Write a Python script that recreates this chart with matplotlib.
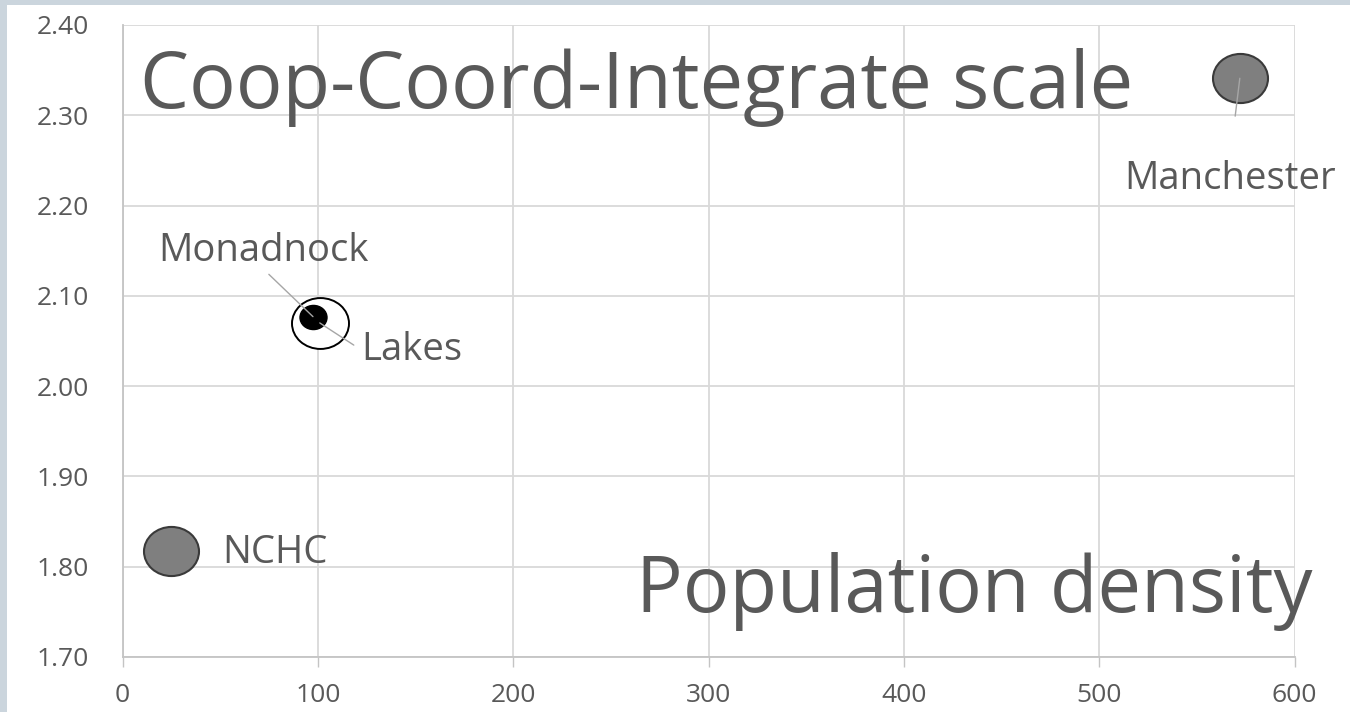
import matplotlib
matplotlib.use('Agg')
import matplotlib.pyplot as plt
from matplotlib.patches import Rectangle
from matplotlib.path import Path
from matplotlib.transforms import Affine2D

# ---- data ----
regions = ['Lakes', 'Monadnock', 'NCHC', 'Manchester']
population_density = [101, 97.5, 25, 572]
coop_scale = [2.070, 2.077, 1.817, 2.341]
x_ticks = [0, 100, 200, 300, 400, 500, 600]
y_ticks = [1.70, 1.80, 1.90, 2.00, 2.10, 2.20, 2.30, 2.40]
y_title = 'Coop-Coord-Integrate scale'
x_title = 'Population density'

# ---- style ----
FONT = 'Open Sans'
TXT = '#595959'
GRID = '#d9d9d9'
style = {
    'Lakes':      dict(size=57, face='white', edge='black', lw=1.4),
    'Monadnock':  dict(size=27, face='black', edge='black', lw=1.0),
    'NCHC':       dict(size=55, face='#7f7f7f', edge='#3a3a3a', lw=1.5),
    'Manchester': dict(size=55, face='#7f7f7f', edge='#3a3a3a', lw=1.5),
}
# label offsets in pixels (dx, dy) and leader-line settings
labels = {
    'Monadnock':  dict(off=(-49, 66), leader=True, relpos=(0.5, 0.0), shrinkA=2),
    'Lakes':      dict(off=(92, -27), leader=True, relpos=(0.0, 0.5), shrinkA=4),
    'Manchester': dict(off=(-10, -101), leader=True, relpos=(0.5, 1.0), shrinkA=30),
    'NCHC':       dict(off=(104, -2), leader=False),
}

plt.rcParams['font.family'] = [FONT, 'DejaVu Sans']

W, H, DPI = 1350, 712, 100
fig = plt.figure(figsize=(W / DPI, H / DPI), dpi=DPI, facecolor='#cbd5dd')
fig.patches.append(Rectangle((7 / W, 0), 1 - 7 / W, 1 - 5 / H,
                             transform=fig.transFigure, facecolor='white',
                             edgecolor='none', zorder=-10))

left, right, bottom, top = 122.5, 1294.5, 657, 25
ax = fig.add_axes([left / W, 1 - bottom / H, (right - left) / W, (bottom - top) / H])
ax.set_zorder(1)
ax.set_facecolor('white')
ax.set_xlim(0, 600)
ax.set_ylim(1.70, 2.40)
ax.set_xticks(x_ticks)
ax.set_yticks(y_ticks)
ax.set_xticklabels([str(v) for v in x_ticks])
ax.set_yticklabels([f'{v:.2f}' for v in y_ticks])
ax.grid(True, color=GRID, lw=1.3, zorder=0)
ax.set_axisbelow(True)
for s in ['top', 'right']:
    ax.spines[s].set_visible(False)
for s in ['left', 'bottom']:
    ax.spines[s].set_color('#c4c4c4')
    ax.spines[s].set_linewidth(1.3)
ax.tick_params(axis='x', direction='out', length=7.5, width=1.0, color='#c4c4c4',
               labelsize=19, labelcolor=TXT, pad=11)
ax.tick_params(axis='y', length=0, labelsize=19, labelcolor=TXT, pad=24)

# elliptical marker (the reference image is slightly stretched horizontally)
circle = Path.unit_circle()
ell = Affine2D().scale(1.12, 1.0).transform_path(circle)

for name, x, y in zip(regions, population_density, coop_scale):
    st = style[name]
    ax.scatter([x], [y], marker=ell, s=(st['size'] * 0.72) ** 2,
               facecolor=st['face'], edgecolor=st['edge'], linewidths=st['lw'],
               zorder=3)

for name, x, y in zip(regions, population_density, coop_scale):
    lb = labels[name]
    kw = {}
    if lb['leader']:
        kw['arrowprops'] = dict(arrowstyle='-', color='#a6a6a6', lw=1.0,
                                shrinkA=lb['shrinkA'], shrinkB=0,
                                relpos=lb['relpos'])
    ax.annotate(name, xy=(x, y), xytext=lb['off'], textcoords='offset pixels',
                ha='center', va='center', fontsize=27.5, color=TXT, zorder=5, **kw)

ax.text(0.0149, 0.8687, y_title, transform=ax.transAxes, fontsize=56,
        color=TXT, ha='left', va='baseline', zorder=4)
ax.text(1.015, 0.0712, x_title, transform=ax.transAxes, fontsize=56,
        color=TXT, ha='right', va='baseline', zorder=4)

fig.savefig('out.png', dpi=DPI, facecolor=fig.get_facecolor())
